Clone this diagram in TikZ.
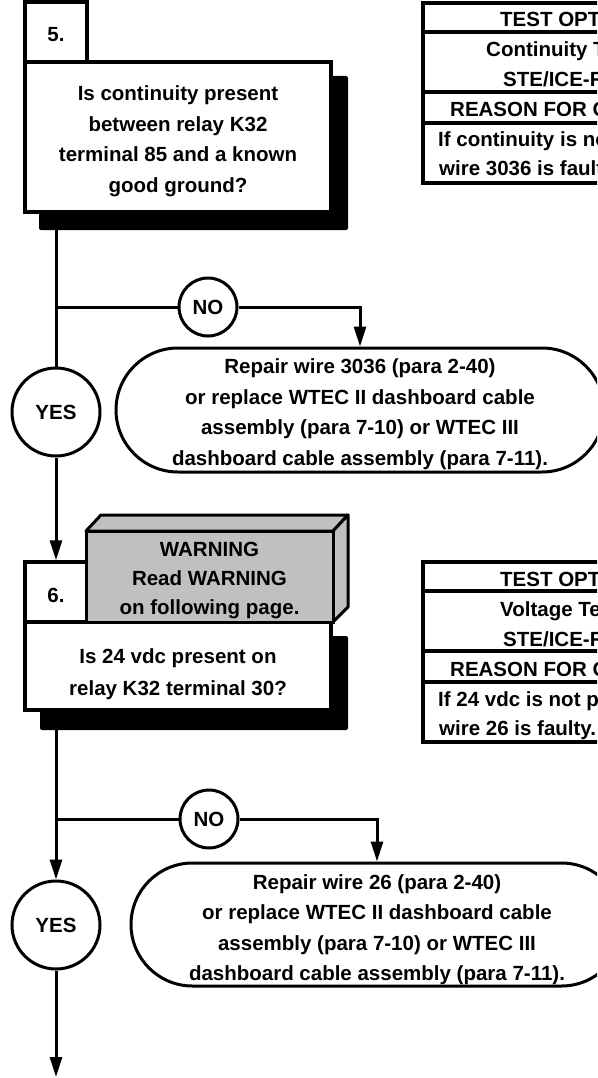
\documentclass[tikz,border=0pt]{standalone}
\usepackage{fontspec}
\setmainfont{Liberation Sans}
\usetikzlibrary{arrows.meta,shapes.misc}
\definecolor{warngray}{RGB}{192,192,192}
\begin{document}
\begin{tikzpicture}[x=1pt,y=-1pt,
  mfont/.style={font=\bfseries\fontsize{20.5}{30.5}\selectfont},
  tfont/.style={font=\bfseries\fontsize{20.5}{29}\selectfont},
  ln/.style={line width=3pt},
  arr/.style={ln,-{Triangle[length=20pt,width=12pt]}},
  qbox/.style={draw,line width=3.5pt,fill=white,rectangle,minimum width=306pt,inner sep=0pt},
  tabbox/.style={draw,line width=3.5pt,fill=white,rectangle,minimum width=62pt,minimum height=60pt,inner sep=0pt},
  shadowbox/.style={fill=black,rounded corners=2pt},
  decision/.style={circle,draw,line width=3pt,fill=white,inner sep=0pt,mfont},
  terminal/.style={draw,rounded rectangle,line width=3pt,fill=white,inner sep=0pt},
  txt/.style={align=center,inner sep=0pt,mfont},
  tline/.style={line width=4pt},
  ttext/.style={anchor=base west,inner sep=0pt,tfont},
  warnface/.style={fill=warngray,draw,line width=3pt,line join=round}
]
\useasboundingbox (0,0) rectangle (597,1078);
\clip (0,0) rectangle (597,1078);

% ---------- Step 5 ----------
\fill[shadowbox] (39,76) rectangle (348,230);
\node[qbox,minimum height=150pt] (b5) at (178,137) {};
\node[txt] (b5txt) at (178,141)
  {Is continuity present\\between relay K32\\terminal 85 and a known\\good ground?};
\node[tabbox] (tab5) at (56,32) {};
\node[txt] (tab5txt) at (56,35) {5.};

% table 1
\draw[tline] (423,3) rectangle (760,183);
\draw[tline] (423,32) -- (760,32);
\draw[tline] (423,92) -- (760,92);
\draw[tline] (423,123) -- (760,123);
\node[ttext] (h1a) at (500,27) {TEST OPTIONS};
\node[ttext] (h1b) at (486,57) {Continuity Test};
\node[ttext] (h1c) at (503,87) {STE/ICE-R};
\node[ttext] (h1d) at (450,117) {REASON FOR QUESTION};
\node[ttext] (h1e) at (438,147) {If continuity is not present,};
\node[ttext] (h1f) at (439,176) {wire 3036 is faulty.};

\node[decision,minimum size=88pt] (yes1) at (56,412) {YES};
\node[decision,minimum size=58pt] (no1) at (208,307) {NO};
\node[terminal,minimum width=488pt,minimum height=124pt] (t1) at (360,410) {};
\node[txt] (t1txt) at (360,414)
  {Repair wire 3036 (para 2-40)\\or replace WTEC II dashboard cable\\assembly (para 7-10) or WTEC III\\dashboard cable assembly (para 7-11).};

\coordinate (br1) at (56,307);
\draw[ln] (yes1.north |- b5.south) -- (yes1.north);
\draw[ln] (br1) -- (no1.west);
\draw[arr] (no1.east) -| (t1.north);

% ---------- Step 6 ----------
\fill[shadowbox] (40,636) rectangle (348,730);
\node[qbox,minimum height=88pt] (b6) at (178,666) {};
\node[txt,font=\bfseries\fontsize{20.5}{32.5}\selectfont] (b6txt) at (178,674)
  {Is 24 vdc present on\\relay K32 terminal 30?};
\node[tabbox] (tab6) at (56,592) {};
\node[txt] (tab6txt) at (56,595) {6.};
\draw[warnface] (86,531) -- (101,515) -- (348,515) -- (333,531) -- cycle;
\draw[warnface] (333,531) -- (348,515) -- (348,607) -- (333,622) -- cycle;
\node[draw,fill=warngray,line width=3pt,minimum width=247pt,minimum height=91pt,
  inner sep=0pt] (warn) at (209.5,576.5) {};
\node[txt,font=\bfseries\fontsize{20.5}{29}\selectfont] (warntxt) at (209.5,580.5)
  {WARNING\\Read WARNING\\on following page.};

\draw[arr] (yes1.south) -- (tab6.north);

% table 2
\draw[tline] (423,562) rectangle (760,742);
\draw[tline] (423,591) -- (760,591);
\draw[tline] (423,651) -- (760,651);
\draw[tline] (423,682) -- (760,682);
\node[ttext] (h2a) at (500,586) {TEST OPTIONS};
\node[ttext] (h2b) at (500,616) {Voltage Test};
\node[ttext] (h2c) at (503,646) {STE/ICE-R};
\node[ttext] (h2d) at (450,676) {REASON FOR QUESTION};
\node[ttext] (h2e) at (438,706) {If 24 vdc is not present,};
\node[ttext] (h2f) at (439,735) {wire 26 is faulty.};

\node[decision,minimum size=88pt] (yes2) at (56,925) {YES};
\node[decision,minimum size=58pt] (no2) at (209,819) {NO};
\node[terminal,minimum width=492pt,minimum height=123pt] (t2) at (377,924.5) {};
\node[txt] (t2txt) at (377,929.5)
  {Repair wire 26 (para 2-40)\\or replace WTEC II dashboard cable\\assembly (para 7-10) or WTEC III\\dashboard cable assembly (para 7-11).};

\coordinate (br2) at (56,819);
\coordinate (endpt) at (56,1077);
\draw[arr] (yes2.north |- b6.south) -- (yes2.north);
\draw[ln] (br2) -- (no2.west);
\draw[arr] (no2.east) -| (t2.north);
\draw[arr] (yes2.south) -- (endpt);
\end{tikzpicture}
\end{document}
